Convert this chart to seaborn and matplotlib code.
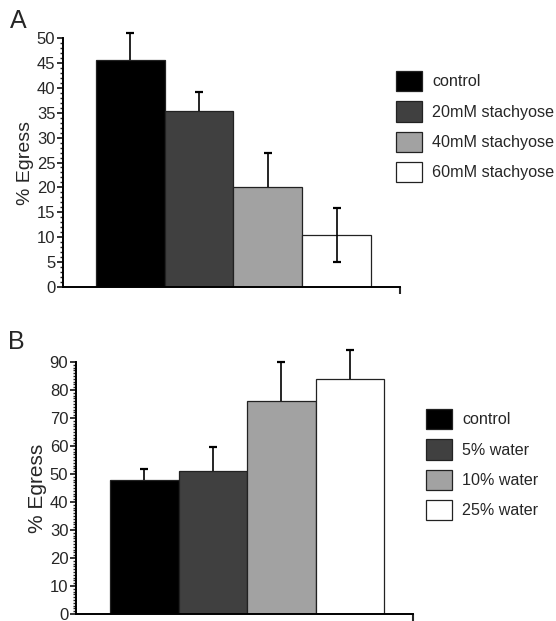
import matplotlib
matplotlib.use("Agg")
import matplotlib.pyplot as plt
from matplotlib.ticker import MultipleLocator
import seaborn as sns
import pandas as pd

# Panel A - stachyose
labels_a = ["control", "20mM stachyose", "40mM stachyose", "60mM stachyose"]
egress_a = [45.5, 35.3, 20.0, 10.5]
err_hi_a = [5.5, 3.8, 7.0, 5.4]
err_lo_a = [0, 0, 0, 5.4]

# Panel B - water
labels_b = ["control", "5% water", "10% water", "25% water"]
egress_b = [48.0, 51.0, 76.0, 84.0]
err_hi_b = [3.8, 8.8, 14.0, 10.2]
err_lo_b = [0, 0, 0, 0]

colors = ["#000000", "#404040", "#a2a2a2", "#ffffff"]

sns.set_style("white")
plt.rcParams['font.family'] = ['Liberation Sans', 'DejaVu Sans']

fig = plt.figure(figsize=(5.56, 6.21), dpi=100)
ax1 = fig.add_axes([0.1133, 0.5378, 0.6058, 0.401])
ax2 = fig.add_axes([0.1367, 0.0113, 0.6063, 0.4058])

eb_kw = dict(fmt="none", ecolor="black", elinewidth=1.2, capsize=2.6,
             capthick=1.6, clip_on=False, zorder=5)


def draw_panel(ax, labels, vals, lo, hi, ymax, major, ylab_size, letter,
               leg_xy, xlim):
    df = pd.DataFrame({"cond": labels, "egress": vals})
    sns.barplot(data=df, x="cond", y="egress", hue="cond", palette=colors,
                width=1.0, edgecolor="#222222", linewidth=0.9, ax=ax,
                legend=False, errorbar=None)
    xs = list(range(len(vals)))
    # upper error bars
    _, caps, _ = ax.errorbar(xs, vals, yerr=[[0] * len(vals), hi], **eb_kw)
    caps[0].set_visible(False)
    # lower error bars only where visible
    low = [(x, v, e) for x, v, e in zip(xs, vals, lo) if e > 0]
    if low:
        lx, lv, le = zip(*low)
        _, caps, _ = ax.errorbar(lx, lv, yerr=[le, [0] * len(le)], **eb_kw)
        caps[1].set_visible(False)
    ax.set_ylim(0, ymax)
    ax.set_xlim(*xlim)
    ax.yaxis.set_major_locator(MultipleLocator(major))
    ax.yaxis.set_minor_locator(MultipleLocator(1))
    ax.tick_params(axis="y", which="major", direction="out", length=4,
                   width=1.3, labelsize=12, pad=1.5, left=True)
    ax.tick_params(axis="y", which="minor", direction="out", length=2.5,
                   width=1.0, left=True)
    ax.set_xticks([xlim[1]])
    ax.set_xticklabels([""])
    ax.tick_params(axis="x", direction="out", length=5, width=1.5, bottom=True)
    ax.set_xlabel("")
    ax.set_ylabel("% Egress", fontsize=ylab_size, labelpad=2)
    for s in ["top", "right"]:
        ax.spines[s].set_visible(False)
    for s in ["left", "bottom"]:
        ax.spines[s].set_color("black")
        ax.spines[s].set_linewidth(1.4)
    ax.legend(ax.patches[:len(labels)], labels, loc="upper left",
              bbox_to_anchor=leg_xy, bbox_transform=fig.transFigure,
              frameon=False, fontsize=11.6, handlelength=1.62,
              handleheight=1.56, labelspacing=0.62, handletextpad=0.62,
              borderpad=0, borderaxespad=0)
    fig.text(letter[0], letter[1], letter[2], fontsize=18, ha="left",
             va="top")


draw_panel(ax1, labels_a, egress_a, err_lo_a, err_hi_a, 50, 5, 14,
           (0.018, 0.985, "A"), (396 / 556, 1 - 71 / 621), (-0.978, 3.92))
draw_panel(ax2, labels_b, egress_b, err_lo_b, err_hi_b, 90, 10, 15,
           (0.015, 0.468, "B"), (426 / 556, 1 - 409 / 621), (-0.996, 3.92))

fig.savefig("out.png", dpi=100)
